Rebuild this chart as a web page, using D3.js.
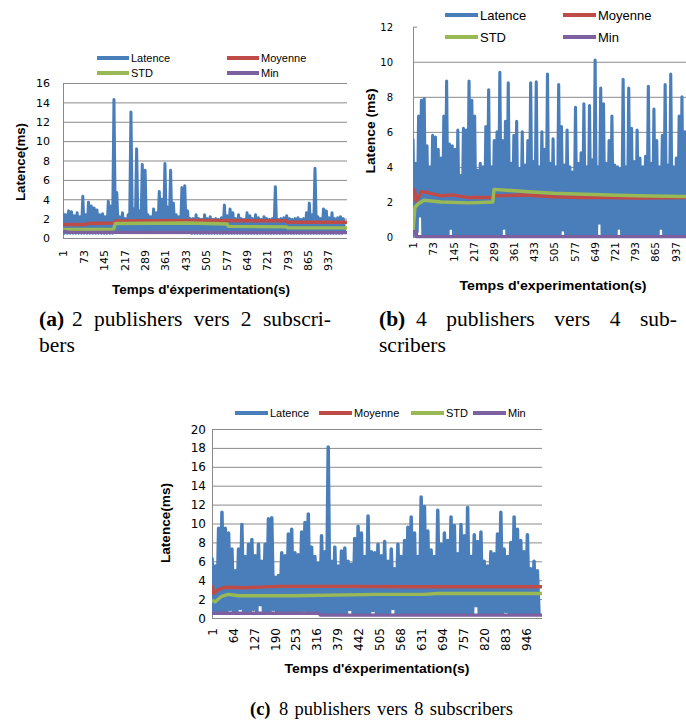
<!DOCTYPE html>
<html><head><meta charset="utf-8">
<script src="https://cdn.jsdelivr.net/npm/d3@7/dist/d3.min.js"></script>
<style>
html,body{margin:0;padding:0;background:#fff;}
svg{display:block;}
</style></head>
<body>
<svg id="fig" width="686" height="722"></svg>
<script>
// ---------------- DATA ----------------
const seriesNames = ["Latence", "Moyenne", "STD", "Min"];
const seriesColors = ["#4a7ebb", "#be4b48", "#98b954", "#7d60a0"];
const SAMPLE_STEP = 5; // latency samples listed every 5 seconds (sample 1, 6, 11, ...)

// (a) 2 publishers -> 2 subscribers
const latA = [
 2.6,0.5,2.4,0.5,2.8,0.5,2.7,0.5,2.3,0.5,
 2.6,0.5,2.2,0.5,4.3,0.5,2.4,0.5,3.7,0.5,
 3.3,0.5,3.1,0.5,2.9,0.5,2.4,0.5,2.5,0.5,
 2.2,0.5,3.8,0.5,3.3,0.5,14.3,0.6,4.7,0.6,
 2.2,0.6,2.6,0.8,2.0,0.6,2.4,0.6,13.0,0.6,
 3.0,0.6,9.2,0.8,2.8,0.6,7.6,0.6,7.0,0.6,
 2.4,0.6,2.2,0.8,3.0,0.6,2.6,0.6,4.8,0.6,
 4.0,0.6,7.7,0.8,3.2,0.6,7.0,0.6,3.6,0.6,
 2.4,0.6,2.2,0.6,5.2,0.8,5.4,0.6,2.8,0.6,
 2.0,0.5,2.0,0.5,2.4,0.5,2.0,0.5,1.9,0.5,
 2.4,0.5,2.0,0.5,2.2,0.5,1.9,0.5,2.0,0.5,
 1.9,0.5,2.1,0.5,3.4,0.5,2.3,0.5,3.0,0.5,
 2.6,0.5,2.0,0.5,2.4,0.5,2.0,0.5,1.9,0.5,
 2.6,0.5,2.3,0.5,2.0,0.5,2.4,0.5,2.1,0.5,
 1.9,0.5,2.2,0.5,2.0,0.5,1.9,0.5,2.0,0.5,
 5.3,0.5,1.9,0.5,2.0,0.5,2.1,0.5,2.3,0.5,
 2.0,0.5,1.9,0.5,2.0,0.5,2.1,0.5,1.9,0.5,
 2.0,0.5,2.6,0.5,3.6,0.5,2.4,0.5,7.2,0.5,
 2.2,0.5,2.0,0.5,3.0,0.5,2.8,0.5,2.1,0.5,
 2.6,0.5,2.0,0.5,2.1,0.5,2.2,0.5,2.0,0.5
];
const moyA = [[1,1.4],[80,1.4],[90,1.5],[180,1.55],[186,1.75],[450,1.8],[790,1.78],[795,1.62],[1004,1.62]];
const stdA = [[1,0.88],[180,0.92],[186,1.5],[440,1.55],[580,1.45],[585,1.2],[790,1.15],[795,1.05],[1004,1.05]];
const minA = [[1,0.7],[20,0.6],[1004,0.55]];
const xTicksA = [1,73,145,217,289,361,433,505,577,649,721,793,865,937];
const yTicksA = [0,2,4,6,8,10,12,14,16];

// (b) 4 publishers -> 4 subscribers
const latB = [
 5.6,0.1,4.2,0.3,6.9,1.2,7.8,0.1,7.9,0.1,
 5.2,0.05,4.0,0.05,5.8,0.05,5.7,0.05,5.0,0.05,
 4.5,0.05,6.9,0.05,8.9,0.05,5.3,0.5,5.2,0.05,
 5.0,0.05,6.1,0.05,3.5,0.05,6.2,0.05,6.1,0.05,
 8.9,0.05,7.8,0.05,6.9,0.05,3.8,0.05,4.2,0.05,
 4.0,0.05,6.3,0.05,8.4,0.05,4.0,0.05,5.5,0.05,
 6.0,0.05,9.4,0.05,5.5,0.5,6.6,0.05,8.8,0.05,
 4.2,0.05,5.8,0.05,6.6,0.05,3.9,0.05,6.0,0.05,
 4.1,0.05,5.5,0.05,8.8,0.05,4.3,0.05,8.85,0.05,
 4.0,0.05,6.0,0.05,5.0,0.05,9.3,0.05,4.2,0.05,
 5.6,0.05,4.0,0.05,8.7,0.05,6.3,0.4,4.1,0.05,
 6.1,0.05,4.0,0.05,3.7,0.05,7.4,0.05,4.2,0.05,
 4.8,0.05,7.6,0.05,4.0,0.05,7.5,0.05,4.4,0.05,
 10.1,0.05,4.0,0.8,8.5,0.05,7.6,0.05,4.2,0.05,
 5.5,0.05,6.9,0.05,4.1,0.05,4.0,0.5,3.9,0.05,
 9.0,0.05,4.0,0.05,8.5,0.05,6.2,0.05,4.3,0.05,
 6.1,0.05,4.5,0.05,4.0,0.05,4.6,0.05,8.6,0.05,
 4.2,0.05,7.3,0.05,5.5,0.05,4.0,0.5,5.8,0.05,
 8.7,0.05,4.1,0.05,9.3,0.05,4.0,0.05,4.5,0.05,
 6.9,0.05,8.0,0.05,6.0,0.05,5.0,0.05,7.0,0.8
];
const moyB = [[1,2.7],[6,2.7],[12,2.05],[22,2.3],[32,2.6],[60,2.5],[100,2.35],[140,2.4],[200,2.25],[286,2.25],[292,2.35],[400,2.4],[500,2.3],[600,2.25],[700,2.25],[800,2.22],[1004,2.25]];
const stdB = [[1,0.3],[8,1.7],[20,1.9],[40,2.1],[100,2.0],[200,1.95],[286,2.0],[290,2.72],[400,2.6],[500,2.5],[700,2.4],[800,2.35],[1004,2.3]];
const minB = [[1,0.3],[12,0.3],[14,0.02],[1004,0.02]];
const xTicksB = [1,73,145,217,289,361,433,505,577,649,721,793,865,937];
const yTicksB = [0,2,4,6,8,10,12];

// (c) 8 publishers -> 8 subscribers
const latC = [
 6.4,0.5,5.5,0.5,9.5,0.5,11.2,0.5,9.5,0.5,
 9.0,0.9,7.3,0.5,5.0,0.5,7.3,1.0,9.9,0.5,
 6.5,0.5,7.8,0.5,8.3,0.9,6.6,0.5,7.8,1.4,
 6.0,0.5,7.8,0.5,10.5,0.5,10.6,0.9,4.3,0.5,
 4.5,0.5,6.9,0.5,6.6,0.5,8.9,0.5,9.4,0.5,
 6.9,0.5,6.7,0.5,9.1,0.8,10.1,0.5,11.0,0.5,
 7.5,0.5,6.5,0.5,5.8,0.5,8.7,0.5,7.0,0.5,
 18.1,0.4,6.0,0.4,7.5,0.4,5.5,0.4,7.1,0.4,
 7.4,0.4,6.0,0.9,5.7,0.4,8.4,0.4,9.7,0.4,
 9.0,0.4,6.5,0.4,10.8,0.4,7.0,0.8,6.9,0.4,
 7.8,0.4,6.6,0.4,8.1,0.4,6.0,0.4,7.3,1.0,
 5.2,0.4,7.8,0.4,6.5,0.4,8.2,0.4,9.6,0.4,
 10.7,0.4,9.0,0.4,6.5,0.4,12.8,0.4,11.8,0.4,
 9.2,0.4,7.2,0.4,6.5,0.4,11.4,0.4,7.8,0.4,
 9.0,0.4,8.2,0.4,10.7,0.4,9.8,0.4,6.8,0.4,
 9.9,0.4,8.7,0.4,11.7,0.4,6.5,0.4,8.8,1.3,
 8.1,0.4,9.1,0.4,6.0,0.4,5.5,0.4,7.0,0.4,
 6.8,0.4,8.9,0.4,11.2,0.4,7.3,0.7,6.5,0.4,
 8.0,0.4,10.7,0.4,9.4,0.4,8.2,0.4,7.0,0.4,
 8.8,0.4,5.2,0.4,6.0,0.4,5.0,0.4
];
const moyC = [[1,3.5],[6,2.6],[20,3.0],[40,3.25],[100,3.2],[200,3.35],[400,3.35],[600,3.3],[995,3.3]];
const stdC = [[1,1.9],[10,1.7],[30,2.3],[50,2.5],[80,2.35],[250,2.35],[500,2.5],[640,2.5],[680,2.6],[995,2.6]];
const minC = [[1,0.5],[323,0.5],[328,0.3],[995,0.3]];
const xTicksC = [1,64,127,190,253,316,379,442,505,568,631,694,757,820,883,946];
const yTicksC = [0,2,4,6,8,10,12,14,16,18,20];

// ---------------- DRAWING ----------------
const svg = d3.select("#fig");
const SANS = "'Liberation Sans', Arial, sans-serif";
const TICKF = "'DejaVu Sans', Verdana, sans-serif";
const SERIF = "'Liberation Serif', 'Times New Roman', serif";
const GRID = "#8a8a8a";

function drawChart(o) {
  const g = svg.append("g");
  const x = d3.scaleLinear().domain([1, o.n]).range([o.x0, o.x1]);
  const y = d3.scaleLinear().domain([0, o.ymax]).range([o.yb, o.yt]);

  const ya = g.append("g").attr("transform", `translate(${o.x0},0)`)
    .call(d3.axisLeft(y).tickValues(o.yTicks).tickSizeInner(-(o.gx1 - o.x0)).tickSizeOuter(0).tickPadding(o.yPad).tickFormat(d3.format("d")));
  ya.select(".domain").attr("stroke", GRID);
  ya.selectAll(".tick line").attr("stroke", GRID);
  ya.selectAll(".tick text").attr("font-family", TICKF).attr("font-size", o.yFont).attr("fill", "#000").attr("dy", "0.34em");

  const xa = g.append("g").attr("transform", `translate(0,${o.yb})`)
    .call(d3.axisBottom(x).tickValues(o.xTicks).tickSize(0).tickFormat(d3.format("d")));
  xa.select(".domain").remove();
  xa.selectAll(".tick text")
    .attr("font-family", TICKF).attr("font-size", o.xFont).attr("fill", "#000")
    .attr("transform", "rotate(-90)").attr("text-anchor", "end")
    .attr("x", -o.xPad).attr("y", 0).attr("dy", "0.36em");

  const cid = "clip" + o.id;
  svg.append("clipPath").attr("id", cid).append("rect")
    .attr("x", o.x0).attr("y", o.yt - 40).attr("width", o.gx1 - o.x0).attr("height", o.yb - o.yt + 42);
  const plot = g.append("g").attr("clip-path", `url(#${cid})`);

  const latLine = d3.line().x((d, i) => x(1 + i * SAMPLE_STEP)).y(d => y(d));
  plot.append("path").datum(o.lat).attr("d", latLine)
    .attr("fill", "none").attr("stroke", seriesColors[0]).attr("stroke-width", o.latW).attr("stroke-linejoin", "round");

  const statLine = d3.line().x(d => x(d[0])).y(d => y(d[1]));
  [o.moy, o.std, o.min].forEach((s, j) => {
    plot.append("path").datum(s).attr("d", statLine)
      .attr("fill", "none").attr("stroke", seriesColors[j + 1]).attr("stroke-width", 3.4).attr("stroke-linejoin", "round");
  });

  const lg = g.append("g");
  if (o.legendBg) lg.append("rect").attr("x", o.legendBg[0]).attr("y", o.legendBg[1]).attr("width", o.legendBg[2]).attr("height", o.legendBg[3]).attr("fill", "#fff");
  seriesNames.forEach((nm, i) => {
    const p = o.legend[i];
    lg.append("line").attr("x1", p[0]).attr("x2", p[0] + o.legLen).attr("y1", p[1]).attr("y2", p[1])
      .attr("stroke", seriesColors[i]).attr("stroke-width", 4);
    lg.append("text").attr("x", p[0] + o.legLen + 2).attr("y", p[1]).attr("dy", "0.35em")
      .attr("font-family", SANS).attr("font-size", o.legFont).attr("fill", "#000").text(nm);
  });

  g.append("text").attr("transform", `translate(${o.yTitle[0]},${o.yTitle[1]}) rotate(-90)`)
    .attr("text-anchor", "middle").attr("dy", "0.35em")
    .attr("font-family", SANS).attr("font-weight", "bold").attr("font-size", 13)
    .attr("textLength", o.yTitle[2]).attr("lengthAdjust", "spacingAndGlyphs")
    .text(o.yTitleText);
  g.append("text").attr("x", o.xTitle[0] - o.xTitle[2] / 2).attr("y", o.xTitle[1])
    .attr("font-family", SANS).attr("font-weight", "bold").attr("font-size", 13)
    .attr("textLength", o.xTitle[2]).attr("lengthAdjust", "spacingAndGlyphs")
    .text(o.xTitleText);
}

drawChart({
  id: "A", n: 1004, x0: 63, x1: 347, gx1: 347, yb: 238, yt: 83, ymax: 16, latW: 3.0,
  lat: latA, moy: moyA, std: stdA, min: minA, xTicks: xTicksA, yTicks: yTicksA,
  yFont: 11, yPad: 13, xFont: 11, xPad: 12,
  legend: [[97,58],[227,58],[97,73],[227,73]], legLen: 32, legFont: 11,
  yTitle: [20,162,78], yTitleText: "Latence(ms)",
  xTitle: [201,294,178], xTitleText: "Temps d'éxperimentation(s)"
});
drawChart({
  id: "B", n: 1004, x0: 413, x1: 694, gx1: 686, yb: 237, yt: 26.7, ymax: 12, latW: 3.1,
  lat: latB, moy: moyB, std: stdB, min: minB, xTicks: xTicksB, yTicks: yTicksB,
  yFont: 10, yPad: 20, xFont: 10.5, xPad: 5,
  legend: [[445,15],[563,15],[445,37],[563,37]], legLen: 33, legFont: 13,
  legendBg: [417, 2, 269, 45],
  yTitle: [370,131,85], yTitleText: "Latence (ms)",
  xTitle: [553,290,187], xTitleText: "Temps d'experimentation(s)"
});
drawChart({
  id: "C", n: 995, x0: 212, x1: 542, gx1: 542, yb: 618, yt: 429, ymax: 20, latW: 3.5,
  lat: latC, moy: moyC, std: stdC, min: minC, xTicks: xTicksC, yTicks: yTicksC,
  yFont: 12, yPad: 6, xFont: 12, xPad: 10,
  legend: [[235,413],[319,413],[411,413],[473,413]], legLen: 33, legFont: 11,
  yTitle: [165,523,80], yTitleText: "Latence(ms)",
  xTitle: [377,673,185], xTitleText: "Temps d'éxperimentation(s)"
});

// captions: bold label + justified text (extra width goes into word spaces)
function justified(txt, x, yb, width, size) {
  const t = svg.append("text").attr("x", x).attr("y", yb).attr("font-family", SERIF)
    .attr("font-size", size).attr("fill", "#000").text(txt);
  if (width) {
    const nat = t.node().getComputedTextLength();
    const spaces = (txt.match(/ /g) || []).length;
    if (spaces && width > nat) t.attr("word-spacing", ((width - nat) / spaces).toFixed(2));
  }
  return t;
}
function label(txt, x, yb, size) {
  svg.append("text").attr("x", x).attr("y", yb).attr("font-family", SERIF).attr("font-weight", "bold")
    .attr("font-size", size).attr("fill", "#000").text(txt);
}
label("(a)", 39, 326, 21.5);
justified("2 publishers vers 2 subscri-", 72, 326, 259, 21.5);
justified("bers", 39, 352, 0, 21.5);
label("(b)", 379, 326, 21.5);
justified("4 publishers vers 4 sub-", 416, 326, 261, 21.5);
justified("scribers", 379, 352, 0, 21.5);
label("(c)", 250, 715, 18.5);
justified("8 publishers vers 8 subscribers", 279, 715, 234, 18.5);
</script>
</body></html>
